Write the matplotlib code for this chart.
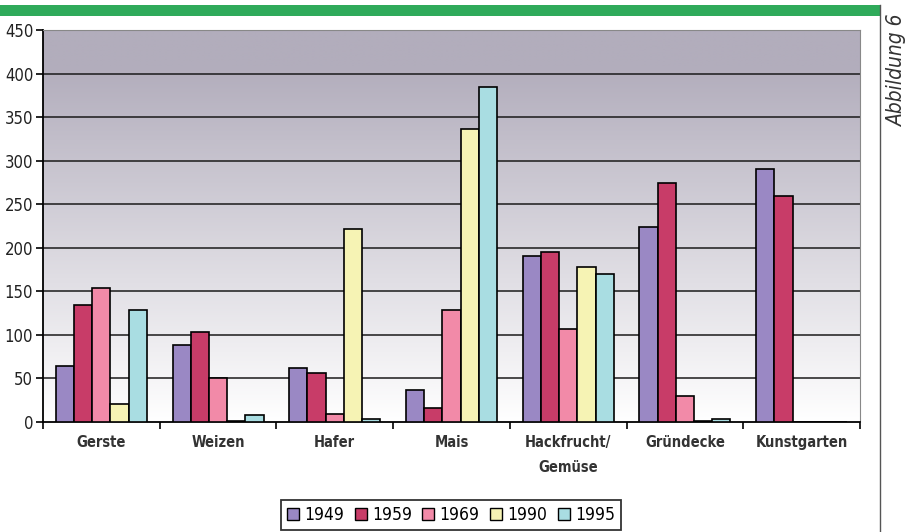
import numpy as np
import matplotlib
matplotlib.use("Agg")
import matplotlib.pyplot as plt
from matplotlib.patches import Rectangle
from matplotlib.lines import Line2D

plt.rcParams['font.family'] = ['DejaVu Sans']
plt.rcParams['font.stretch'] = 'condensed'

categories = ["Gerste", "Weizen", "Hafer", "Mais", "Hackfrucht/\nGemüse", "Gründecke", "Kunstgarten"]
years = ["1949", "1959", "1969", "1990", "1995"]
v1949 = [64, 88, 62, 37, 191, 224, 291]
v1959 = [134, 103, 56, 16, 195, 274, 260]
v1969 = [154, 51, 9, 128, 107, 30, 0]
v1990 = [21, 1, 221, 336, 178, 1, 0]
v1995 = [128, 8, 4, 385, 170, 3, 0]
series = [v1949, v1959, v1969, v1990, v1995]
colors = ["#9a88c4", "#c83c68", "#f28aa8", "#f6f3b4", "#a9dde2"]
yticks = [0, 50, 100, 150, 200, 250, 300, 350, 400, 450]

W, H = 911, 532
fig = plt.figure(figsize=(W / 100, H / 100), dpi=100)
fig.patch.set_facecolor("white")

ax = fig.add_axes([43 / W, 1 - 422 / H, (860 - 43) / W, (422 - 30) / H])
ax.set_xlim(0, len(categories))
ax.set_ylim(0, 450)

# gradient backdrop: grey-lavender at top fading to white at the bottom
grad = np.linspace(0, 1, 256)[:, None]
top = np.array([178, 173, 188]) / 255
bot = np.array([255, 255, 255]) / 255
t = np.clip(grad * 1.1, 0, 1)
img = bot + (top - bot) * t
img = np.repeat(img[:, None, :], 2, axis=1).reshape(256, 2, 3)
ax.imshow(img, extent=[0, len(categories), 0, 450], origin="lower",
          aspect="auto", zorder=0, interpolation="bilinear")

for y in yticks[1:]:
    ax.axhline(y, color="#1a1a1a", lw=1.1, zorder=1)

n = len(series)
group = 0.78
bw = group / n
x = np.arange(len(categories)) + 0.5
for i, (vals, c, lab) in enumerate(zip(series, colors, years)):
    ax.bar(x - group / 2 + bw * (i + 0.5), vals, width=bw, color=c,
           edgecolor="black", linewidth=1.2, zorder=3, label=lab)

for side in ["top", "right"]:
    ax.spines[side].set_color("#888888")
    ax.spines[side].set_linewidth(0.8)
for side in ["left", "bottom"]:
    ax.spines[side].set_color("black")
    ax.spines[side].set_linewidth(1.3)

ax.set_yticks(yticks)
ax.set_yticklabels([str(v) for v in yticks], fontsize=12, color="#222222")
ax.tick_params(axis="y", direction="out", length=5, width=1.2, pad=2)
ax.set_xticks(np.arange(len(categories) + 1))
ax.set_xticklabels([])
ax.tick_params(axis="x", direction="out", length=5, width=1.2)
for xi, cat in zip(x, categories):
    ax.text(xi, -15, cat, ha="center", va="top", fontsize=10.5,
            fontweight="bold", color="#333333", linespacing=1.85)

handles = [Rectangle((0, 0), 1, 1, facecolor=c, edgecolor="black", lw=1.0) for c in colors]
leg = fig.legend(handles, years, loc="center", bbox_to_anchor=(451 / W, 1 - 515 / H),
                 ncol=5, frameon=True, fontsize=12.5, handlelength=0.7, handleheight=0.7,
                 handletextpad=0.3, columnspacing=0.6, borderpad=0.35,
                 fancybox=False, edgecolor="black")
leg.get_frame().set_linewidth(1.3)

# page decoration: green rule, right margin line and figure label
fig.patches.append(Rectangle((0, 1 - 16 / H), 880 / W, 11 / H, transform=fig.transFigure,
                             facecolor="#2faa5a", edgecolor="none"))
fig.lines.append(Line2D([880 / W, 880 / W], [0, 1 - 5 / H], transform=fig.transFigure,
                        color="#555555", lw=1.0))
fig.text(897 / W, 1 - 70 / H, "Abbildung 6", rotation=90, ha="center", va="center",
         fontsize=15, style="italic", color="#333333")

fig.savefig("out.png", dpi=100)
